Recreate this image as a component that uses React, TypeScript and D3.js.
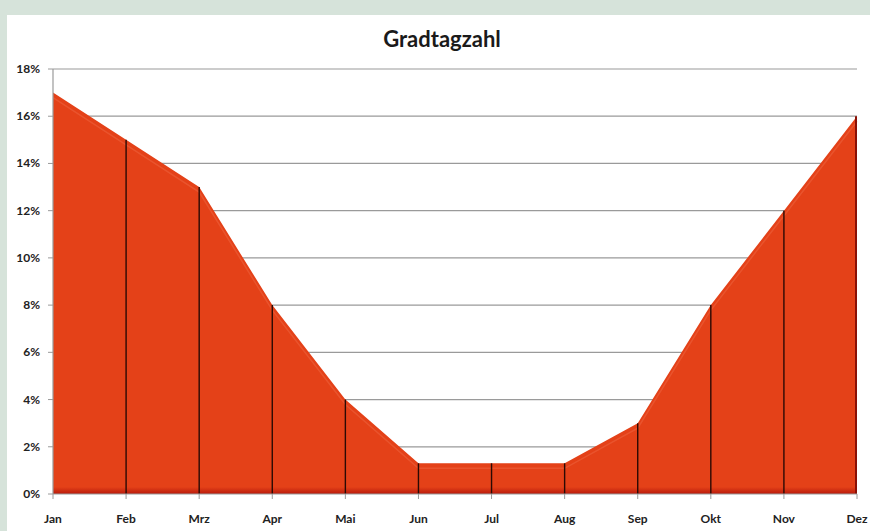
import React from 'react';
import * as d3 from 'd3';

const months = ['Jan', 'Feb', 'Mrz', 'Apr', 'Mai', 'Jun', 'Jul', 'Aug', 'Sep', 'Okt', 'Nov', 'Dez'];
const shares = [17, 15, 13, 8, 4, 1.3, 1.3, 1.3, 3, 8, 12, 16];
const yTicks = [0, 2, 4, 6, 8, 10, 12, 14, 16, 18];

const W = 870;
const H = 531;
const margin = { left: 53, right: 13, top: 69, bottom: 37 };

export default function App() {
  const x = d3.scalePoint<string>().domain(months).range([margin.left, W - margin.right]);
  const y = d3.scaleLinear().domain([0, 18]).range([H - margin.bottom, margin.top]);

  const area = d3
    .area<number>()
    .x((_, i) => x(months[i])!)
    .y0(y(0))
    .y1(d => y(d));
  const line = d3
    .line<number>()
    .x((_, i) => x(months[i])!)
    .y(d => y(d) + 5);

  const font = 'Lato, "Open Sans", sans-serif';

  return (
    <svg width={W} height={H} style={{ position: 'absolute', left: 0, top: 0 }}>
      <defs>
        <linearGradient id="bottomShade" x1="0" x2="0" y1="0" y2="1">
          <stop offset="0" stopColor="#b3160a" stopOpacity="0" />
          <stop offset="1" stopColor="#b3160a" stopOpacity="0.9" />
        </linearGradient>
      </defs>
      <rect x={0} y={0} width={W} height={H} fill="#d6e3da" />
      <rect x={7} y={15} width={W - 7} height={H - 15} fill="#ffffff" />

      <text x={442} y={47} textAnchor="middle" fontFamily={font} fontWeight="bold" fontSize={22} fill="#1a1a1a">
        Gradtagzahl
      </text>

      {yTicks.map(t => (
        <g key={t}>
          {t > 0 && (
            <line x1={margin.left} x2={W - margin.right} y1={y(t)} y2={y(t)} stroke="#9a9a9a" strokeWidth={1.2} />
          )}
          <line x1={margin.left - 5} x2={margin.left} y1={y(t)} y2={y(t)} stroke="#9a9a9a" />
          <text x={40} y={y(t) + 4} textAnchor="end" fontFamily={font} fontWeight="bold" fontSize={12} fill="#222">
            {t}%
          </text>
        </g>
      ))}

      <path d={area(shares)!} fill="#e44118" />
      <path d={line(shares)!} fill="none" stroke="#f06a48" strokeWidth={1.5} opacity={0.45} />
      <rect x={margin.left} y={y(0) - 7} width={W - margin.right - margin.left} height={7} fill="url(#bottomShade)" />
      <line x1={W - margin.right - 1} x2={W - margin.right - 1} y1={y(shares[11])} y2={y(0)} stroke="#8a1005" strokeWidth={2} />

      {shares.map((v, i) =>
        i > 0 && i < shares.length - 1 ? (
          <line key={months[i]} x1={x(months[i])} x2={x(months[i])} y1={y(v)} y2={y(0)} stroke="#2a0a04" strokeWidth={1.4} />
        ) : null
      )}

      <line x1={margin.left} x2={margin.left} y1={margin.top} y2={y(0)} stroke="#9a9a9a" strokeWidth={1.2} />
      <line x1={margin.left} x2={W - margin.right} y1={y(0)} y2={y(0)} stroke="#9a9a9a" strokeWidth={1.2} />

      {months.map(m => (
        <g key={m}>
          <line x1={x(m)} x2={x(m)} y1={y(0)} y2={y(0) + 5} stroke="#9a9a9a" />
          <text x={x(m)} y={523} textAnchor="middle" fontFamily={font} fontWeight="bold" fontSize={12} fill="#222">
            {m}
          </text>
        </g>
      ))}
    </svg>
  );
}
